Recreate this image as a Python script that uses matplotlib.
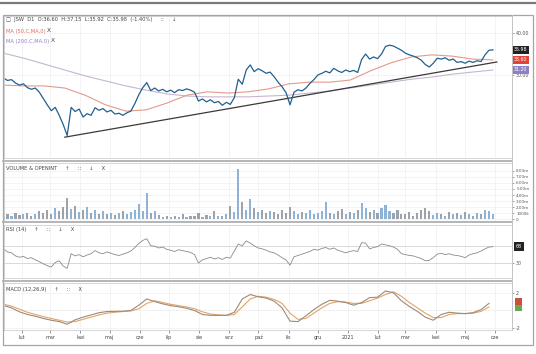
import matplotlib
matplotlib.use("Agg")
import matplotlib.pyplot as plt
import numpy as np
import pandas as pd
from matplotlib.patches import Rectangle
from matplotlib.lines import Line2D

W, H = 536, 354

# JSW daily chart (sampled), Jan 2020 - May 2021
close = [29.3, 28.7, 28.9, 28.1, 27.6, 27.9, 27.0, 26.6, 26.9, 25.9,
         24.4, 22.9, 21.5, 22.3, 20.4, 18.2, 15.6, 22.3, 21.3, 21.9,
         20.0, 20.8, 20.4, 22.2, 21.6, 22.0, 21.2, 21.6, 20.7, 20.9,
         20.4, 21.0, 21.4, 23.2, 25.3, 27.0, 28.2, 26.3, 26.9, 26.2,
         26.6, 26.0, 26.4, 25.8, 26.5, 26.3, 26.7, 26.4, 25.9, 23.8,
         24.3, 23.6, 24.1, 23.4, 23.7, 22.8, 23.5, 23.0, 24.6, 29.0,
         27.8, 31.2, 32.4, 30.8, 31.5, 31.0, 30.4, 30.7, 29.6, 28.3,
         27.2, 25.8, 22.9, 25.9, 26.5, 26.2, 26.9, 28.0, 28.9, 30.0,
         30.4, 30.9, 30.5, 31.6, 31.0, 30.6, 31.2, 30.8, 31.1, 30.6,
         33.7, 35.0, 33.8, 34.3, 33.9, 35.0, 36.8, 37.1, 36.9, 36.4,
         35.9, 35.2, 34.8, 34.5, 34.1, 33.5, 32.5, 31.9, 32.8, 34.0,
         33.8, 34.1, 33.5, 33.8, 33.0, 33.2, 32.8, 33.3, 33.0, 33.4,
         33.2, 34.8, 35.9, 35.98]

# volume in millions
volume = [0.6, 0.9, 0.5, 1.0, 0.7, 0.8, 1.1, 0.6, 0.9, 1.3,
          1.0, 1.6, 0.8, 1.9, 1.4, 2.0, 3.5, 1.7, 2.2, 1.2,
          1.5, 2.0, 1.1, 1.6, 0.9, 1.3, 0.8, 1.1, 0.7, 1.0,
          1.4, 0.8, 1.2, 1.5, 2.5, 1.3, 4.3, 1.0, 1.3, 0.7,
          0.4, 0.6, 0.3, 0.5, 0.4, 0.8, 0.3, 0.6, 0.5, 1.0,
          0.4, 0.7, 0.5, 1.4, 0.6, 0.5, 0.8, 2.2, 1.2, 8.3,
          2.8, 1.5, 3.3, 1.8, 1.2, 1.6, 1.0, 1.4, 1.2, 0.9,
          1.5, 1.1, 2.0, 1.3, 0.8, 1.2, 1.0, 1.6, 0.9, 1.1,
          1.4, 2.8, 1.0, 0.8, 1.3, 1.7, 0.9, 1.2, 1.0, 1.5,
          2.6, 1.8, 1.2, 1.5, 1.0, 1.9, 2.3, 1.4, 1.1, 1.6,
          0.9, 0.8, 1.2, 0.6, 1.0, 1.5, 1.8, 1.3, 0.7, 1.1,
          0.9, 0.6, 1.2, 0.8, 1.0, 0.7, 1.2, 0.9, 0.6, 1.1,
          0.8, 1.5, 1.4, 0.9]

rsi = [63, 56, 54, 47, 44, 46, 41, 43, 38, 34,
       29, 25, 22, 32, 36, 24, 19, 52, 47, 50,
       45, 49, 52, 59, 54, 52, 56, 53, 50, 48,
       51, 54, 58, 66, 75, 82, 86, 70, 69, 65,
       67, 62, 60, 57, 61, 59, 57, 55, 50, 31,
       38, 41, 44, 40, 43, 39, 44, 42, 58, 74,
       70, 81, 76, 70, 65, 63, 60, 56, 54, 49,
       43, 38, 26, 45, 48, 51, 54, 57, 62, 60,
       64, 66, 62, 65, 60, 57, 54, 57, 59, 57,
       77, 76, 63, 66, 68, 74, 72, 70, 67, 62,
       52, 50, 48, 47, 44, 41, 36, 37, 43, 51,
       53, 50, 52, 49, 48, 46, 43, 49, 52, 54,
       58, 63, 67, 68]

ma50 = [27.6, 27.4, 27.4, 26.9, 25.2, 22.9, 21.4, 21.7, 23.3, 25.2,
        26.0, 25.7, 26.0, 26.7, 27.9, 28.3, 28.3, 28.8, 31.0, 32.9,
        34.3, 34.8, 34.5, 33.8, 33.6]
ma200 = [35.2, 34.0, 32.6, 31.2, 29.8, 28.6, 27.4, 26.4, 25.5, 25.0,
         24.8, 24.8, 24.8, 25.0, 25.2, 25.7, 26.2, 26.9, 27.6, 28.3,
         29.0, 29.5, 30.2, 30.7, 31.2]

macd = [0.56, 0.30, -0.15, -0.45, -0.65, -0.9, -1.1, -1.25, -1.55, -1.05,
        -0.75, -0.5, -0.25, -0.12, -0.1, -0.08, 0.0, 0.6, 1.3, 1.0,
        0.75, 0.55, 0.42, 0.25, 0.0, -0.45, -0.55, -0.55, -0.55, -0.2,
        1.3, 1.8, 1.55, 1.4, 1.05, 0.3, -1.2, -1.25, -0.6, 0.1,
        0.7, 1.15, 1.05, 0.9, 0.6, 0.9, 1.45, 1.5, 2.2, 2.0,
        1.1, 0.45, -0.1, -0.75, -1.1, -0.45, -0.2, -0.3, -0.35, -0.25,
        0.1, 0.8]
signal = [0.7, 0.5, 0.15, -0.2, -0.45, -0.7, -0.9, -1.1, -1.3, -1.25,
          -1.0, -0.75, -0.5, -0.3, -0.2, -0.12, -0.05, 0.2, 0.8, 1.1,
          0.9, 0.7, 0.55, 0.4, 0.2, -0.15, -0.4, -0.5, -0.55, -0.45,
          0.4, 1.3, 1.6, 1.5, 1.25, 0.8, -0.3, -1.0, -0.9, -0.3,
          0.3, 0.8, 1.0, 0.95, 0.8, 0.8, 1.1, 1.4, 1.8, 2.1,
          1.6, 0.9, 0.3, -0.3, -0.8, -0.8, -0.45, -0.35, -0.35, -0.3,
          -0.1, 0.4]

trend_dates = pd.to_datetime(["2020-03-16", "2021-06-03"])
trend_values = [15.2, 33.1]

month_ticks = pd.date_range("2020-02-01", "2021-06-01", freq="MS")
month_labels = ["lut", "mar", "kwi", "maj", "cze", "lip", "sie", "wrz", "paź",
                "lis", "gru", "2021", "lut", "mar", "kwi", "maj", "cze"]

vol_ticks = [0, 1, 2, 3, 4, 5, 6, 7, 8]
vol_labels = ["0", "1000k", "2.00m", "3.00m", "4.00m", "5.00m", "6.00m", "7.00m", "8.00m"]

dates = pd.date_range("2020-01-13", "2021-05-30", periods=len(close))
ma_dates = pd.date_range("2020-01-13", "2021-05-30", periods=len(ma50))
macd_dates = dates[::2]

x_lo = pd.Timestamp("2020-01-13 12:00")
x_hi = pd.Timestamp("2021-06-18 14:00")

fig = plt.figure(figsize=(W / 100, H / 100), dpi=100)
fig.patch.set_facecolor("white")


def px_axes(y0, y1, x0=4, x1=512):
    return fig.add_axes([x0 / W, 1 - y1 / H, (x1 - x0) / W, (y1 - y0) / H])


def style(ax, last=False):
    ax.set_xlim(x_lo, x_hi)
    for s in ax.spines.values():
        s.set_color("#d0d0d0")
        s.set_linewidth(0.6)
    ax.set_xticks(month_ticks)
    ax.grid(True, color="#efefef", lw=0.5)
    ax.set_axisbelow(True)
    ax.yaxis.tick_right()
    ax.tick_params(axis="y", labelsize=3.4, colors="#555555", length=1.5, width=0.4, pad=1.5)
    if last:
        ax.set_xticklabels(month_labels)
        ax.tick_params(axis="x", labelsize=3.6, colors="#444444", length=2, width=0.4, pad=1.5)
    else:
        ax.tick_params(axis="x", bottom=False, labelbottom=False)


# price panel
ax = px_axes(16, 158)
style(ax)
ax.plot(ma_dates, ma200, color="#c7b6cf", lw=0.8)
ax.plot(ma_dates, ma50, color="#e39a8c", lw=0.8)
ax.plot(trend_dates, trend_values, color="#3a3a3a", lw=0.9)
ax.plot(dates, close, color="#22608f", lw=0.9)
ax.set_ylim(10.24, 44.05)
ax.set_yticks([30, 40])
ax.set_yticklabels(["30.00", "40.00"])
for val, col in [(close[-1], "#222222"), (ma50[-1], "#e0453a"), (ma200[-1], "#8f7fc7")]:
    ax.text(1.003, val, f"{val:.2f}", transform=ax.get_yaxis_transform(),
            fontsize=3.4, color="white", va="center", ha="left",
            bbox=dict(boxstyle="square,pad=0.35", fc=col, ec="none"))

# volume panel
axv = px_axes(163, 221)
style(axv)
up = np.r_[True, np.diff(close) >= 0]
bar_cols = np.where(up, "#8fb3d6", "#9ea3ab")
axv.bar(dates, volume, width=2.2, color=bar_cols)
axv.set_ylim(-0.3, 9.3)
axv.set_yticks(vol_ticks)
axv.set_yticklabels(vol_labels)
axv.tick_params(axis="y", labelsize=3.0)

# RSI panel
axr = px_axes(225, 278)
style(axr)
axr.axhline(70, color="#d5d5d5", lw=0.6)
axr.axhline(30, color="#d5d5d5", lw=0.6)
axr.plot(dates, rsi, color="#8a8a8a", lw=0.6)
axr.set_ylim(-3, 117)
axr.set_yticks([30])
axr.set_yticklabels(["30"])
axr.text(1.008, rsi[-1], f"{rsi[-1]:.0f}", transform=axr.get_yaxis_transform(),
         fontsize=3.4, color="white", va="center", ha="left",
         bbox=dict(boxstyle="square,pad=0.35", fc="#222222", ec="none"))

# MACD panel
axm = px_axes(283, 330)
style(axm, last=True)
axm.axhline(0, color="#dddddd", lw=0.6, ls=(0, (1, 1)))
axm.plot(macd_dates, signal, color="#e2a468", lw=0.8)
axm.plot(macd_dates, macd, color="#9c8a78", lw=0.8)
axm.set_ylim(-2.2, 3.1)
axm.set_yticks([-2, 2])
axm.set_yticklabels(["-2", "2"])
for val, col in [(1.0, "#c9503f"), (0.3, "#6aa84f")]:
    axm.text(1.008, val, "    ", transform=axm.get_yaxis_transform(),
             fontsize=3.0, va="center", ha="left",
             bbox=dict(boxstyle="square,pad=0.3", fc=col, ec="none"))

# panel headers
def header(x, y, s, color="#444444", size=3.7):
    fig.text(x / W, 1 - y / H, s, fontsize=size, color=color, va="center", ha="left")

header(6, 20, "\u25a1  JSW  D1  O:36.60  H:37.15  L:35.92  C:35.98  (-1.40%)     ::     \u2193")
header(6, 31, "MA (50,C,MA,0)", color="#e06b5a")
header(47, 31, "X", size=4.2)
header(6, 41, "MA (200,C,MA,0)", color="#8f7fc7")
header(51, 41, "X", size=4.2)
header(6, 169, "VOLUME & OPENINT     \u2191     ::     \u2193     X")
header(6, 229, "RSI (14)     \u2191     ::     \u2193     X")
header(6, 289, "MACD (12,26,9)     \u2191     ::     X")

# frame, separators
fig.add_artist(Line2D([0, 1], [1 - 3 / H] * 2, color="#7a7a7a", lw=1.6))
fig.add_artist(Rectangle((3 / W, 1 - 345 / H), 530 / W, 330 / H, fill=False,
                         ec="#a5a5a5", lw=0.9, transform=fig.transFigure))
for yy in [160.5, 222.5, 281]:
    fig.add_artist(Line2D([3 / W, 512 / W], [1 - yy / H] * 2, color="#b5b5b5", lw=1.4))
fig.add_artist(Line2D([512 / W] * 2, [1 - 15 / H, 1 - 330 / H], color="#c5c5c5", lw=0.7))

fig.savefig("out.png", dpi=100)
